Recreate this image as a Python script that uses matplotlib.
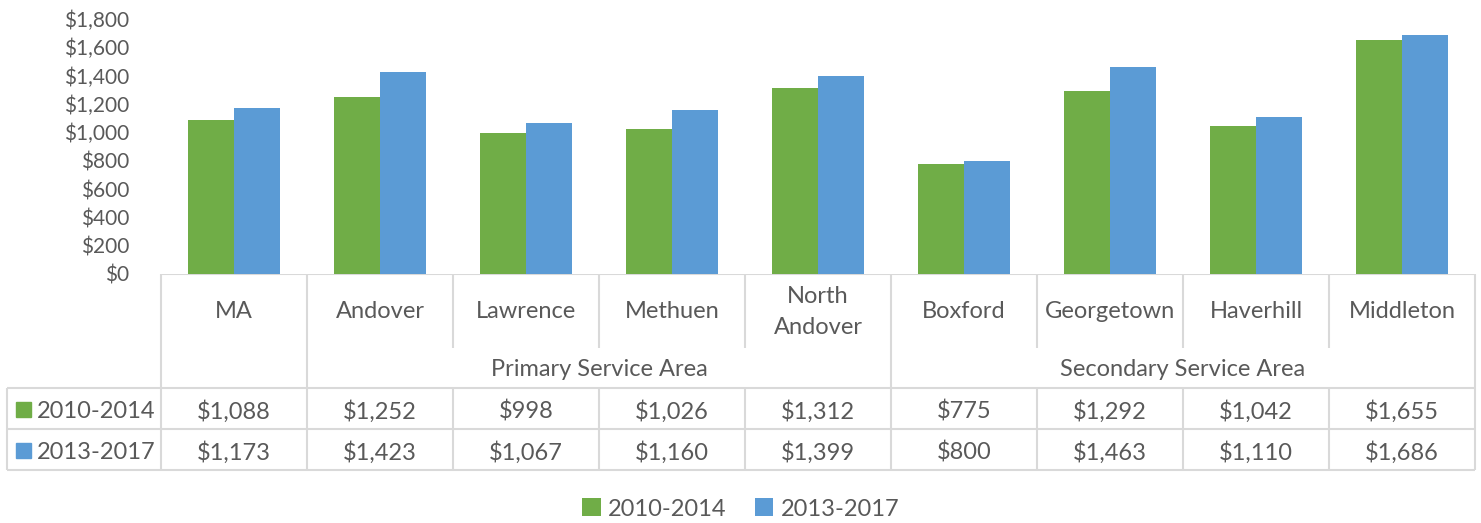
import matplotlib.pyplot as plt
import numpy as np

categories = ["MA", "Andover", "Lawrence", "Methuen", "North\nAndover",
              "Boxford", "Georgetown", "Haverhill", "Middleton"]
groups = ["", "Primary Service Area", "Secondary Service Area"]
group_spans = [(0, 0), (1, 4), (5, 8)]
series_names = ["2010-2014", "2013-2017"]
values_2010_2014 = [1088, 1252, 998, 1026, 1312, 775, 1292, 1042, 1655]
values_2013_2017 = [1173, 1423, 1067, 1160, 1399, 800, 1463, 1110, 1686]
yticks = [0, 200, 400, 600, 800, 1000, 1200, 1400, 1600, 1800]

GREEN = "#70AD47"
BLUE = "#5B9BD5"
TEXT = "#595959"
LINE = "#D9D9D9"
FONT = "Lato"
FS_TICK = 15
FS = 17

W, H = 1481, 523
fig = plt.figure(figsize=(W / 100, H / 100), dpi=100)
plt.rcParams["font.family"] = [FONT, "DejaVu Sans"]

# plot area in pixel terms
left, right, top, base = 161, 1475, 19, 274
ax = fig.add_axes([left / W, 1 - base / H, (right - left) / W, (base - top) / H])

x = np.arange(len(categories))
bw = 0.315
ax.bar(x - bw / 2, values_2010_2014, bw, color=GREEN, label=series_names[0])
ax.bar(x + bw / 2, values_2013_2017, bw, color=BLUE, label=series_names[1])
ax.set_xlim(-0.5, len(categories) - 0.5)
ax.set_ylim(0, 1800)
ax.set_yticks(yticks)
ax.set_yticklabels([f"${v:,}" for v in yticks], color=TEXT, fontsize=FS_TICK)
ax.tick_params(axis="y", length=0, pad=23)
ax.set_xticks([])
for s in ["top", "right", "left", "bottom"]:
    ax.spines[s].set_visible(False)

# overlay in pixel coords for the data table
tb = fig.add_axes([0, 0, 1, 1], zorder=-1)
tb.set_xlim(0, W)
tb.set_ylim(H, 0)
tb.axis("off")

col_w = (right - left) / len(categories)
edges = [left + i * col_w for i in range(len(categories) + 1)]
y_cat, y_grp, y_r1, y_r2, y_end = 274, 348, 388, 429, 470
lkw = dict(color=LINE, lw=1.5, solid_capstyle="butt")

tb.plot([left, right], [y_cat, y_cat], **lkw)
tb.plot([7, right], [y_r1, y_r1], **lkw)
tb.plot([7, right], [y_r2, y_r2], **lkw)
tb.plot([7, right], [y_end, y_end], **lkw)
tb.plot([7, 7], [y_r1, y_end], **lkw)

group_edges = set()
for a, b in group_spans:
    group_edges.add(a)
    group_edges.add(b + 1)
for i, ex in enumerate(edges):
    bottom = y_end if i in group_edges else y_grp
    tb.plot([ex, ex], [y_cat, bottom], **lkw)
    if i not in group_edges:
        tb.plot([ex, ex], [y_r1, y_end], **lkw)

for i, c in enumerate(categories):
    tb.text(edges[i] + col_w / 2, 312, c, ha="center", va="center",
            color=TEXT, fontsize=FS, linespacing=1.55)
for g, (a, b) in zip(groups, group_spans):
    if g:
        tb.text((edges[a] + edges[b + 1]) / 2, 369, g, ha="center", va="center",
                color=TEXT, fontsize=FS)

for yr, name, vals, col in [((y_r1 + y_r2) / 2, series_names[0], values_2010_2014, GREEN),
                            ((y_r2 + y_end) / 2, series_names[1], values_2013_2017, BLUE)]:
    tb.add_patch(plt.Rectangle((16, yr - 7), 15, 15, color=col))
    tb.text(37, yr + 1, name, ha="left", va="center_baseline", color=TEXT, fontsize=FS)
    for i, v in enumerate(vals):
        tb.text(edges[i] + col_w / 2, yr + 1, f"${v:,}", ha="center",
                va="center_baseline", color=TEXT, fontsize=FS)

fig.legend(loc="center", bbox_to_anchor=(0.5, 1 - 509 / H), ncol=2, frameon=False,
           fontsize=FS, labelcolor=TEXT, handlelength=0.8, handleheight=0.8,
           handletextpad=0.3, columnspacing=1.2)

fig.savefig("out.png", dpi=100)
